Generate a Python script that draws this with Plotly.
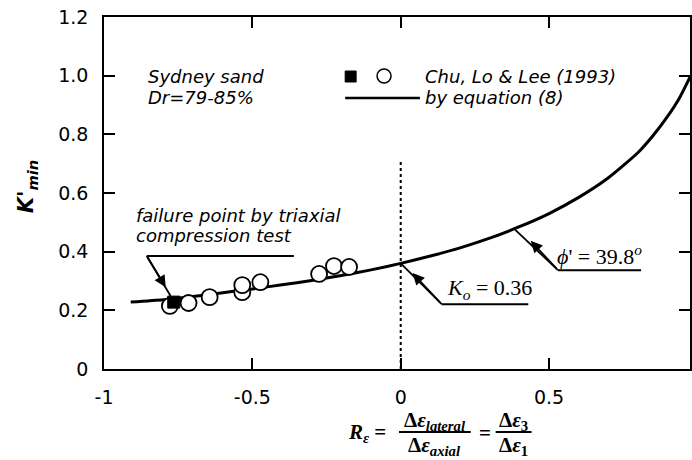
import plotly.graph_objects as go

# ---- data -------------------------------------------------------------
# K'min predicted by equation (8) along the strain-increment ratio R_eps
curve_r = [-0.91, -0.8, -0.7, -0.6, -0.5, -0.4, -0.3, -0.2, -0.1, 0.0,
           0.1, 0.2, 0.3, 0.4, 0.5, 0.6, 0.7, 0.8, 0.85, 0.9, 0.94, 0.975]
curve_k = [0.228, 0.236, 0.247, 0.260, 0.273, 0.287, 0.302, 0.319, 0.338, 0.360,
           0.385, 0.413, 0.446, 0.485, 0.530, 0.585, 0.652, 0.738, 0.795, 0.862,
           0.925, 0.995]

# Chu, Lo & Lee (1993) test results
test_r = [-0.778, -0.715, -0.644, -0.534, -0.534, -0.473, -0.275, -0.225, -0.174]
test_k = [0.215, 0.225, 0.245, 0.262, 0.286, 0.296, 0.324, 0.351, 0.348]

# failure point by triaxial compression
fail_r = [-0.765]
fail_k = [0.228]

ko_value = 0.36
phi_label_r = 0.38
phi_label_k = 0.48

x_ticks = [-1, -0.5, 0, 0.5, 1]
x_tick_text = ["-1", "-0.5", "0", "0.5", "1"]
y_ticks = [0, 0.2, 0.4, 0.6, 0.8, 1.0, 1.2]
y_tick_text = ["0", "0.2", "0.4", "0.6", "0.8", "1.0", "1.2"]

# ---- layout geometry (pixels) ------------------------------------------
W, H = 692, 460
ML, MR, MT, MB = 104, 0, 17, 91
PW, PH = W - ML - MR, H - MT - MB


def px(x):
    return (x - ML) / PW


def py(y):
    return (H - MB - y) / PH


SANS = "DejaVu Sans"
SERIF = "Liberation Serif"

fig = go.Figure()

fig.add_trace(go.Scatter(
    x=curve_r, y=curve_k, mode="lines",
    line=dict(color="black", width=3, shape="spline", smoothing=0.6),
    hoverinfo="skip", showlegend=False))

fig.add_trace(go.Scatter(
    x=test_r, y=test_k, mode="markers",
    marker=dict(symbol="circle", size=16, color="white",
                line=dict(color="black", width=1.8)),
    showlegend=False))

fig.add_trace(go.Scatter(
    x=fail_r, y=fail_k, mode="markers",
    marker=dict(symbol="square", size=12, color="black",
                line=dict(color="black", width=1)),
    showlegend=False))

shapes = []
annotations = []

# vertical dotted line at R = 0
shapes.append(dict(type="line", xref="x", yref="y", x0=0, x1=0, y0=0, y1=0.71,
                   line=dict(color="black", width=2, dash="dot")))

# legend glyphs
shapes.append(dict(type="rect", xref="paper", yref="paper",
                   x0=px(346), x1=px(357), y0=py(82), y1=py(71),
                   fillcolor="black", line=dict(color="black", width=1)))
shapes.append(dict(type="circle", xref="paper", yref="paper",
                   x0=px(378), x1=px(392), y0=py(83), y1=py(69),
                   fillcolor="white", line=dict(color="black", width=1.5)))
shapes.append(dict(type="line", xref="paper", yref="paper",
                   x0=px(346), x1=px(421), y0=py(98), y1=py(98),
                   line=dict(color="black", width=2.5)))

text_font = dict(family=SANS, size=18, color="black")
for txt, x, y in [
    ("<i>Sydney sand</i>", 146, 76),
    ("<i>Dr=79-85%</i>", 146, 97),
    ("<i>Chu, Lo &amp; Lee (1993)</i>", 424, 76),
    ("<i>by equation (8)</i>", 424, 97),
    ("<i>failure point by triaxial</i>", 134, 215),
    ("<i>compression test</i>", 134, 235),
]:
    annotations.append(dict(text=txt, xref="paper", yref="paper",
                            x=px(x), y=py(y), xanchor="left", yanchor="middle",
                            showarrow=False, font=text_font))

# leader for the failure point
fail_elbow = (-0.856, 0.385)
fail_head = (-0.792, 0.279)
shapes.append(dict(type="line", xref="x", yref="y",
                   x0=fail_elbow[0], y0=fail_elbow[1], x1=-0.36, y1=fail_elbow[1],
                   line=dict(color="black", width=2)))
shapes.append(dict(type="line", xref="x", yref="y",
                   x0=fail_elbow[0], y0=fail_elbow[1], x1=fail_r[0] - 0.01, y1=fail_k[0] + 0.02,
                   line=dict(color="black", width=1.8)))
annotations.append(dict(text="", x=fail_head[0], y=fail_head[1], xref="x", yref="y",
                        ax=fail_elbow[0], ay=fail_elbow[1], axref="x", ayref="y",
                        showarrow=True, arrowhead=2, arrowsize=1.3, arrowwidth=1.8,
                        arrowcolor="black"))

# K_o leader
ko_elbow = (0.138, 0.221)
ko_head = (0.04, 0.327)
shapes.append(dict(type="line", xref="x", yref="y",
                   x0=0, y0=ko_value, x1=ko_elbow[0], y1=ko_elbow[1],
                   line=dict(color="black", width=1.8)))
shapes.append(dict(type="line", xref="x", yref="y",
                   x0=ko_elbow[0], y0=ko_elbow[1], x1=0.43, y1=ko_elbow[1],
                   line=dict(color="black", width=2)))
annotations.append(dict(text="", x=ko_head[0], y=ko_head[1], xref="x", yref="y",
                        ax=ko_elbow[0], ay=ko_elbow[1], axref="x", ayref="y",
                        showarrow=True, arrowhead=2, arrowsize=1.3, arrowwidth=1.8,
                        arrowcolor="black"))
annotations.append(dict(text="<i>K</i><sub><i>o</i></sub> = %.2f" % ko_value,
                        x=0.30, y=ko_elbow[1], xref="x", yref="y",
                        xanchor="center", yanchor="bottom", yshift=-1, showarrow=False,
                        font=dict(family=SERIF, size=22, color="black")))

# phi' leader
phi_elbow = (0.53, 0.337)
phi_head = (0.438, 0.437)
shapes.append(dict(type="line", xref="x", yref="y",
                   x0=phi_label_r, y0=phi_label_k, x1=phi_elbow[0], y1=phi_elbow[1],
                   line=dict(color="black", width=1.8)))
shapes.append(dict(type="line", xref="x", yref="y",
                   x0=phi_elbow[0], y0=phi_elbow[1], x1=0.81, y1=phi_elbow[1],
                   line=dict(color="black", width=2)))
annotations.append(dict(text="", x=phi_head[0], y=phi_head[1], xref="x", yref="y",
                        ax=phi_elbow[0], ay=phi_elbow[1], axref="x", ayref="y",
                        showarrow=True, arrowhead=2, arrowsize=1.3, arrowwidth=1.8,
                        arrowcolor="black"))
annotations.append(dict(text="<i>ϕ</i>' = 39.8<sup><i>o</i></sup>",
                        x=0.67, y=phi_elbow[1], xref="x", yref="y",
                        xanchor="center", yanchor="bottom", yshift=-1, showarrow=False,
                        font=dict(family=SERIF, size=22, color="black")))

# y-axis title
annotations.append(dict(text="<b><i>K'</i></b><sub><b><i>min</i></b></sub>",
                        xref="paper", yref="paper", x=px(27), y=py(186),
                        xanchor="center", yanchor="middle", textangle=-90,
                        showarrow=False, font=dict(family=SANS, size=21, color="black")))

# x-axis title: R_eps = d(eps_lateral)/d(eps_axial) = d(eps_3)/d(eps_1)
ttl_font = dict(family=SERIF, size=21, color="black")
num_y, bar_y, den_y = 421, 432, 446
for txt, x, y in [
    ("<b><i>R</i><sub><i>ε</i></sub> =</b>", 368, 433),
    ("<b>Δ<i>ε</i><sub><i>lateral</i></sub></b>", 436, num_y),
    ("<b>Δ<i>ε</i><sub><i>axial</i></sub></b>", 436, den_y),
    ("<b>=</b>", 486, 433),
    ("<b>Δ<i>ε</i><sub>3</sub></b>", 515, num_y),
    ("<b>Δ<i>ε</i><sub>1</sub></b>", 515, den_y),
]:
    annotations.append(dict(text=txt, xref="paper", yref="paper",
                            x=px(x), y=py(y), xanchor="center", yanchor="middle",
                            showarrow=False, font=ttl_font))
for x0, x1 in [(400, 472), (497, 533)]:
    shapes.append(dict(type="line", xref="paper", yref="paper",
                       x0=px(x0), x1=px(x1), y0=py(bar_y), y1=py(bar_y),
                       line=dict(color="black", width=1.8)))

axis_common = dict(showgrid=False, zeroline=False, showline=True, linecolor="black",
                   linewidth=1.6, ticks="inside", ticklen=11, tickwidth=1.6,
                   tickcolor="black", mirror="ticks",
                   tickfont=dict(family=SANS, size=19, color="black"))

fig.update_layout(
    width=W, height=H,
    margin=dict(l=ML, r=MR, t=MT, b=MB),
    paper_bgcolor="white", plot_bgcolor="white",
    xaxis=dict(range=[-1, 0.975], tickvals=x_ticks, ticktext=x_tick_text,
               ticklabelstandoff=10, **axis_common),
    yaxis=dict(range=[0, 1.2], tickvals=y_ticks, ticktext=y_tick_text,
               ticklabelstandoff=10, **axis_common),
    shapes=shapes, annotations=annotations,
    showlegend=False,
)

fig.write_html("out.html")
